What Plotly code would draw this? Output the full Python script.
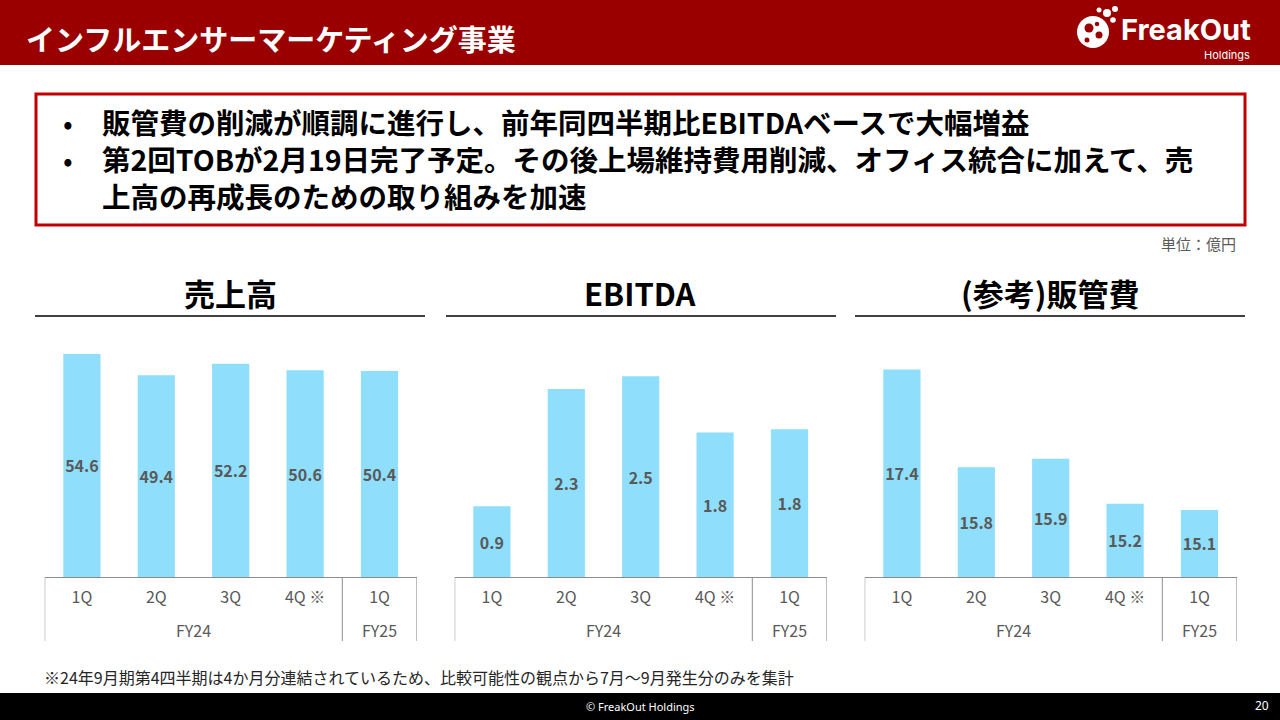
import plotly.graph_objects as go

# ---------------- data ----------------
quarters = ["1Q", "2Q", "3Q", "4Q ※", "1Q"]
fiscal_years = ["FY24", "FY24", "FY24", "FY24", "FY25"]
sales = [54.6, 49.4, 52.2, 50.6, 50.4]
ebitda = [0.88, 2.34, 2.50, 1.80, 1.84]
sga = [17.4, 15.8, 15.94, 15.2, 15.1]
panel_titles = ["売上高", "EBITDA", "(参考)販管費"]
panel_series = [sales, ebitda, sga]
y_ranges = [(0, 58.0), (0, 2.95), (14, 17.885)]

page_title = "インフルエンサーマーケティング事業"
bullet_lines = [
    "販管費の削減が順調に進行し、前年同四半期比EBITDAベースで大幅増益",
    "第2回TOBが2月19日完了予定。その後上場維持費用削減、オフィス統合に加えて、売",
    "上高の再成長のための取り組みを加速",
]
bullet_marks = ["•", "•", ""]
unit_label = "単位：億円"
footnote = "※24年9月期第4四半期は4か月分連結されているため、比較可能性の観点から7月～9月発生分のみを集計"
copyright_text = "© FreakOut Holdings"
page_number = "20"

# ---------------- styling ----------------
W, H = 1280, 720
FONT = "Noto Sans CJK JP"
RED_DARK = "#9A0000"
RED_BOX = "#C00000"
BAR = "#8EDEFC"
GREY_TXT = "#595959"
AXIS_GREY = "#8C8C8C"


def px(x):
    return x / W


def py(y):
    return 1 - y / H


fig = go.Figure()

panel_left = [44.7, 454.7, 864.7]
panel_width = 372.0
plot_top, plot_base = 340, 577
x_idx = list(range(len(quarters)))

shapes = []
annotations = []

for i, (vals, rng) in enumerate(zip(panel_series, y_ranges)):
    n = "" if i == 0 else str(i + 1)
    base = rng[0]
    fig.add_trace(go.Bar(
        x=x_idx,
        y=[v - base for v in vals],
        base=base,
        text=[f"{v:.1f}" for v in vals],
        texttemplate="<b>%{text}</b>",
        textposition="inside",
        insidetextanchor="middle",
        textangle=0,
        constraintext="none",
        textfont=dict(family=FONT, size=16, color=GREY_TXT),
        marker=dict(color=BAR, line=dict(width=0)),
        width=0.5,
        xaxis="x" + n,
        yaxis="y" + n,
        showlegend=False,
        hoverinfo="skip",
    ))
    fig.update_layout(**{
        "xaxis" + n: dict(
            domain=[px(panel_left[i]), px(panel_left[i] + panel_width)],
            range=[-0.5, len(quarters) - 0.5],
            anchor="y" + n,
            tickvals=x_idx,
            ticktext=quarters,
            tickfont=dict(family=FONT, size=16, color=GREY_TXT),
            ticks="outside", ticklen=6, tickcolor="rgba(0,0,0,0)",
            showline=True, linecolor=AXIS_GREY, linewidth=1,
            showgrid=False, zeroline=False, fixedrange=True,
        ),
        "yaxis" + n: dict(
            domain=[py(plot_base), py(plot_top)],
            range=list(rng),
            anchor="x" + n,
            visible=False, showgrid=False, zeroline=False, fixedrange=True,
        ),
    })
    # group dividers
    bounds = [-0.5]
    for k in range(1, len(fiscal_years)):
        if fiscal_years[k] != fiscal_years[k - 1]:
            bounds.append(k - 0.5)
    bounds.append(len(fiscal_years) - 0.5)
    for b in bounds:
        shapes.append(dict(type="line", xref="x" + n, yref="paper",
                           x0=b, x1=b, y0=py(plot_base), y1=py(641),
                           line=dict(color=AXIS_GREY, width=1)))
    # group labels
    groups = []
    for k, fy in enumerate(fiscal_years):
        if not groups or groups[-1][0] != fy:
            groups.append([fy, []])
        groups[-1][1].append(k)
    for fy, idxs in groups:
        annotations.append(dict(
            xref="x" + n, yref="paper", x=sum(idxs) / len(idxs), y=py(630),
            text=fy, showarrow=False, xanchor="center", yanchor="middle",
            font=dict(family=FONT, size=16, color=GREY_TXT)))
    # panel title + underline
    cx = [230, 640, 1050][i]
    annotations.append(dict(
        xref="paper", yref="paper", x=px(cx), y=py(292),
        text=f"<b>{panel_titles[i]}</b>", showarrow=False,
        xanchor="center", yanchor="middle",
        font=dict(family=FONT, size=31, color="#000000")))
    lx0 = [35, 446, 855][i]
    shapes.append(dict(type="line", xref="paper", yref="paper",
                       x0=px(lx0), x1=px(lx0 + 390), y0=py(316), y1=py(316),
                       line=dict(color="#000000", width=1.3)))

# header band
shapes.append(dict(type="rect", xref="paper", yref="paper", x0=0, x1=1,
                   y0=py(65), y1=1, fillcolor=RED_DARK, line=dict(width=0),
                   layer="below"))
# footer band
shapes.append(dict(type="rect", xref="paper", yref="paper", x0=0, x1=1,
                   y0=0, y1=py(693), fillcolor="#000000", line=dict(width=0),
                   layer="below"))
# text box
shapes.append(dict(type="rect", xref="paper", yref="paper",
                   x0=px(36), x1=px(1245), y0=py(225), y1=py(94),
                   fillcolor="rgba(0,0,0,0)", line=dict(color=RED_BOX, width=3)))

# logo icon (approximation)
def circle(cx, cy, r, color):
    return dict(type="circle", xref="paper", yref="paper",
                x0=px(cx - r), x1=px(cx + r), y0=py(cy + r), y1=py(cy - r),
                fillcolor=color, line=dict(width=0))

shapes += [
    circle(1093, 32, 16, "#FFFFFF"),
    circle(1089, 28, 4.5, RED_DARK),
    circle(1099, 35, 3.5, RED_DARK),
    circle(1087, 40, 2.5, RED_DARK),
    circle(1097, 24, 2.2, RED_DARK),
    circle(1107, 13, 4, "#FFFFFF"),
    circle(1115, 9, 3, "#FFFFFF"),
    circle(1099, 10, 2.5, "#FFFFFF"),
    circle(1113, 20, 2.8, "#FFFFFF"),
]

# header title
annotations.append(dict(xref="paper", yref="paper", x=px(24), y=py(38),
                        text=f"<b>{page_title}</b>", showarrow=False,
                        xanchor="left", yanchor="middle",
                        font=dict(family=FONT, size=29, color="#FFFFFF")))
annotations.append(dict(xref="paper", yref="paper", x=px(1253), y=py(30),
                        text="<b>FreakOut</b>", showarrow=False,
                        xanchor="right", yanchor="middle",
                        font=dict(family="Inter", size=29, color="#FFFFFF")))
annotations.append(dict(xref="paper", yref="paper", x=px(1252), y=py(55),
                        text="Holdings", showarrow=False,
                        xanchor="right", yanchor="middle",
                        font=dict(family="Inter", size=11, color="#FFFFFF")))

# bullets: marks column and text column, each one text block
BULLET_SIZE = 28.5
annotations.append(dict(xref="paper", yref="paper", x=px(68), y=py(158),
                        text="<br>".join(m if m else " " for m in bullet_marks),
                        showarrow=False, align="center",
                        xanchor="center", yanchor="middle",
                        font=dict(family=FONT, size=BULLET_SIZE, color="#000000")))
annotations.append(dict(xref="paper", yref="paper", x=px(100), y=py(158),
                        text="<br>".join(f"<b>{t}</b>" for t in bullet_lines),
                        showarrow=False, align="left",
                        xanchor="left", yanchor="middle",
                        font=dict(family=FONT, size=BULLET_SIZE, color="#000000")))

annotations.append(dict(xref="paper", yref="paper", x=px(1238), y=py(243),
                        text=unit_label, showarrow=False,
                        xanchor="right", yanchor="middle",
                        font=dict(family=FONT, size=15, color=GREY_TXT)))
annotations.append(dict(xref="paper", yref="paper", x=px(42), y=py(677),
                        text=footnote, showarrow=False,
                        xanchor="left", yanchor="middle",
                        font=dict(family=FONT, size=16, color="#262626")))
annotations.append(dict(xref="paper", yref="paper", x=px(640), y=py(706),
                        text=copyright_text, showarrow=False,
                        xanchor="center", yanchor="middle",
                        font=dict(family="Noto Sans", size=11, color="#FFFFFF")))
annotations.append(dict(xref="paper", yref="paper", x=px(1262), y=py(705),
                        text=page_number, showarrow=False,
                        xanchor="center", yanchor="middle",
                        font=dict(family="Noto Sans", size=12, color="#FFFFFF")))

fig.update_layout(
    width=W, height=H,
    margin=dict(l=0, r=0, t=0, b=0),
    paper_bgcolor="#FFFFFF", plot_bgcolor="rgba(0,0,0,0)",
    bargap=0.5,
    shapes=shapes,
    annotations=annotations,
    showlegend=False,
    font=dict(family=FONT),
)

fig.write_html("out.html", config={"displayModeBar": False})
